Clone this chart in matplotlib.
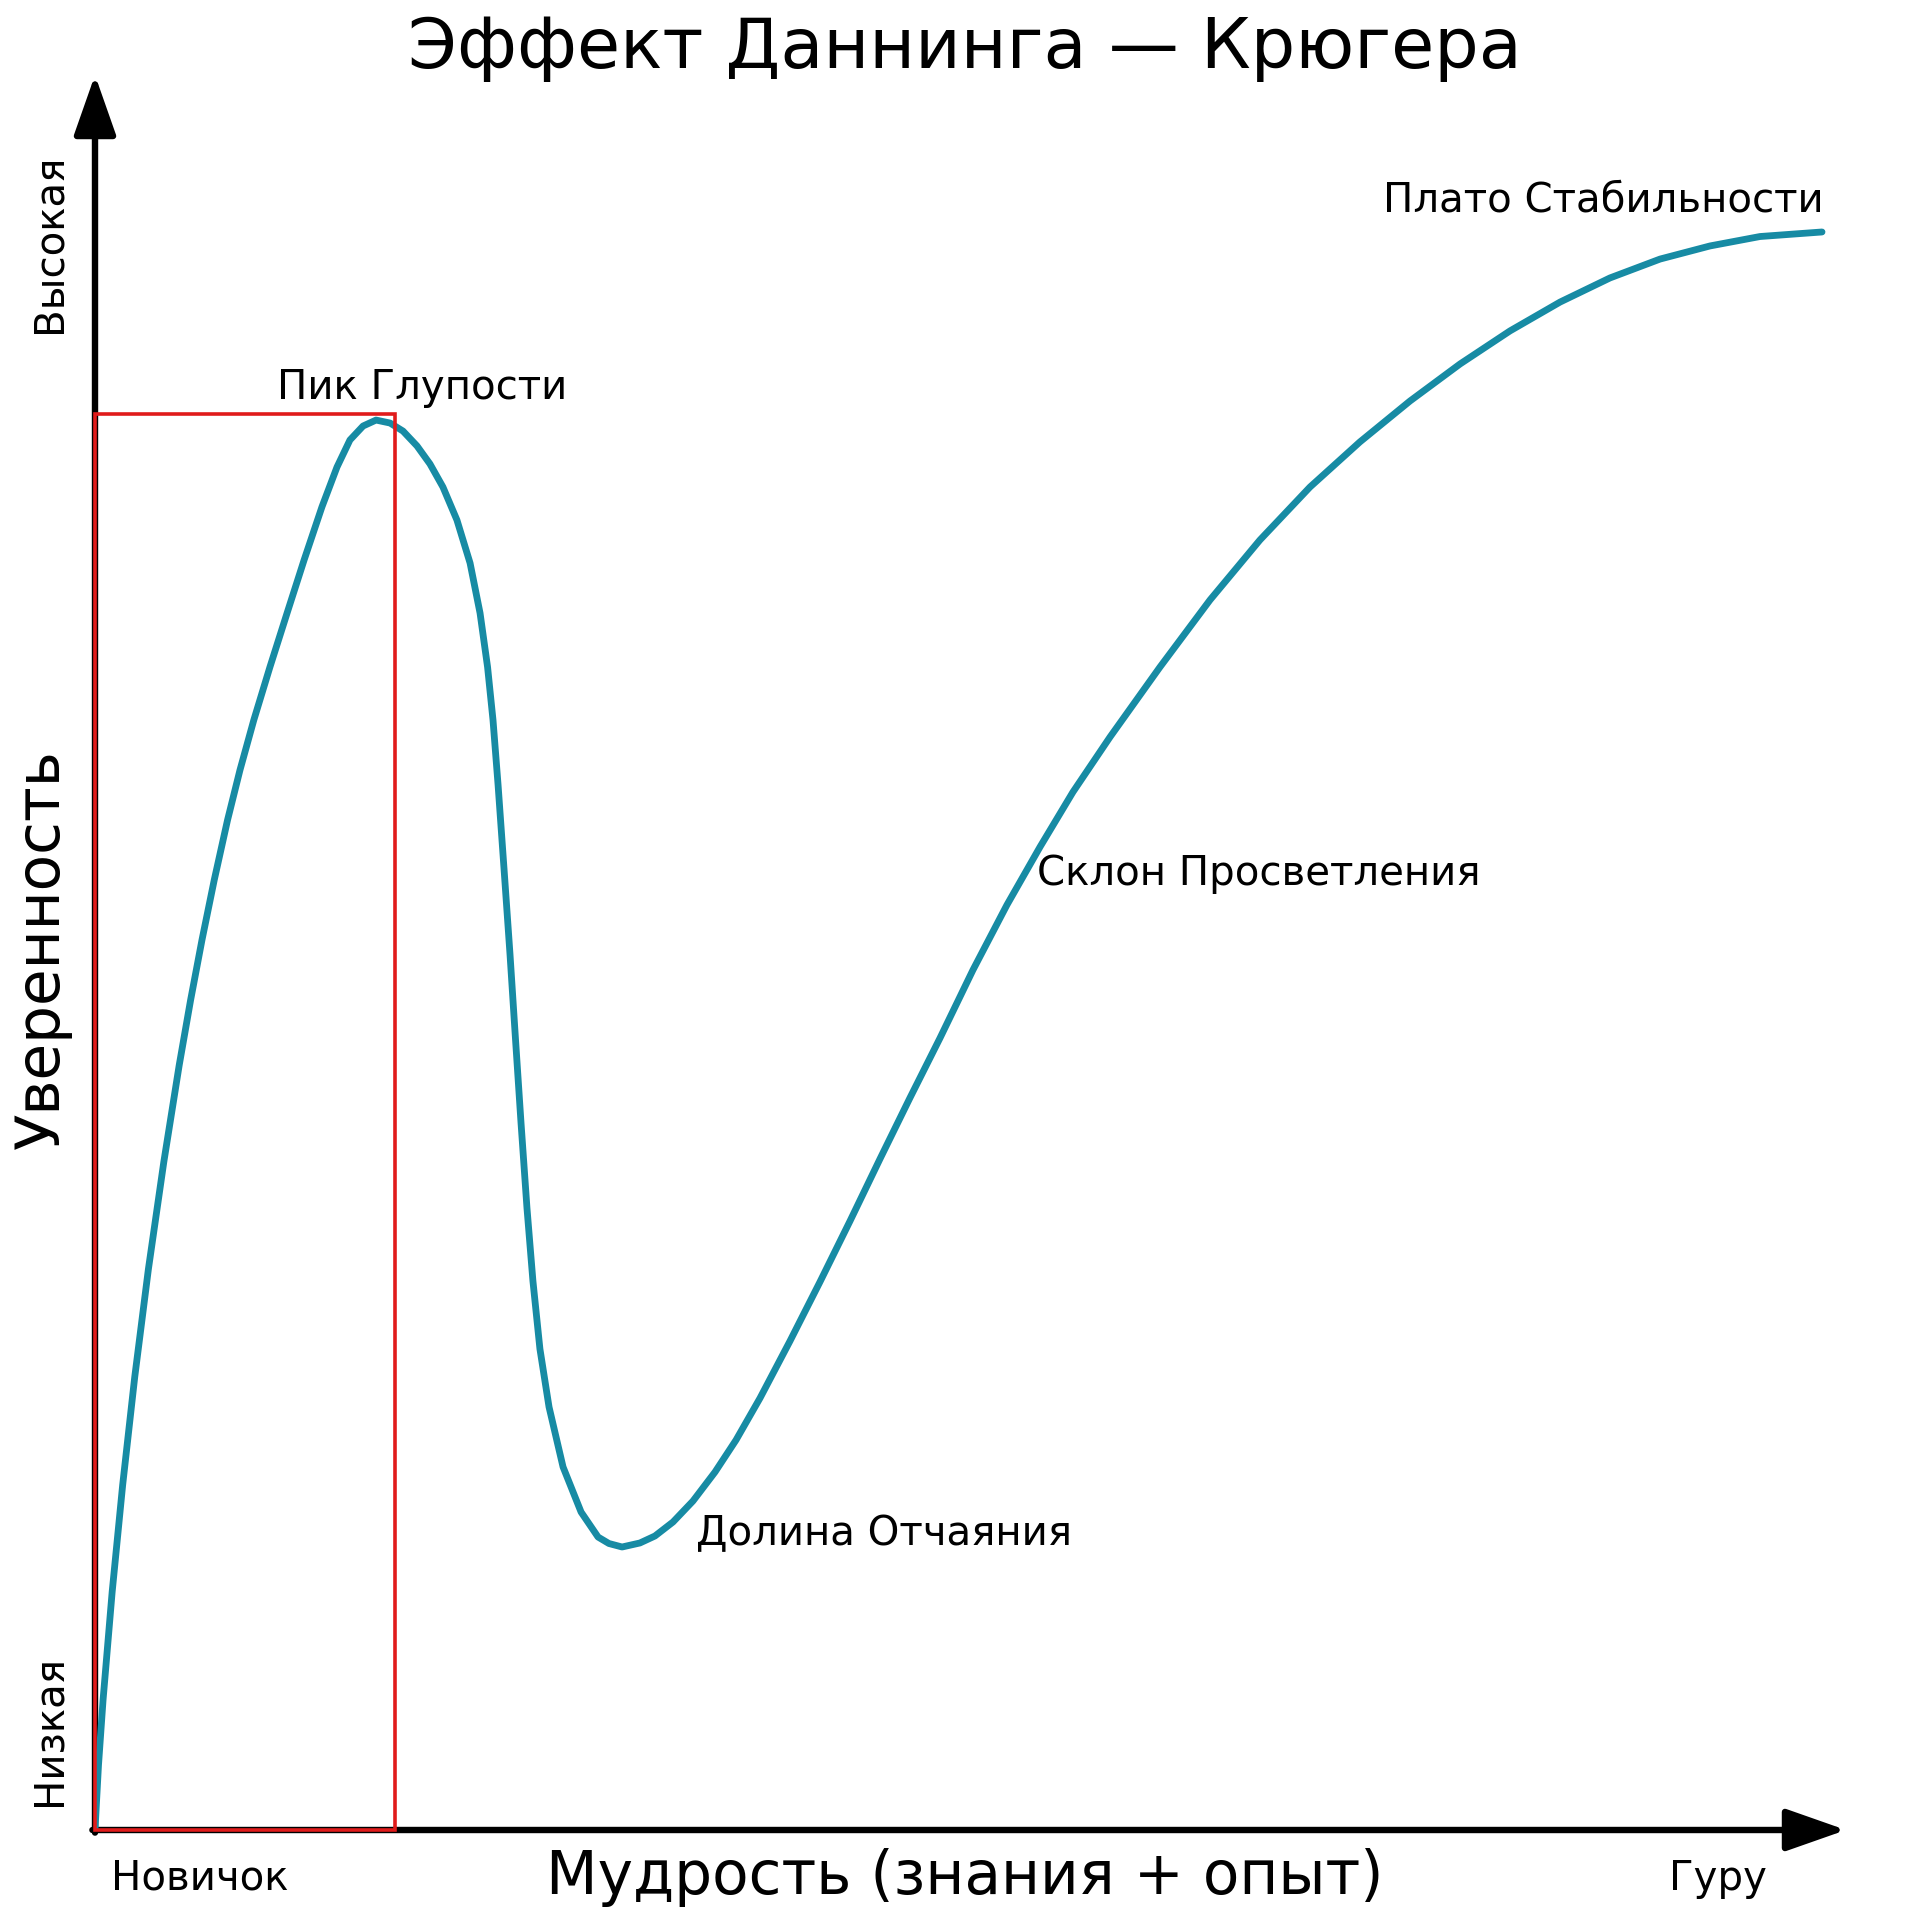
import matplotlib
matplotlib.use('Agg')
import matplotlib.pyplot as plt
from matplotlib.patches import Rectangle

# curve: wisdom (0..100) vs confidence (0..100)
wisdom = [0.00, 0.20, 0.46, 0.98, 1.58, 2.27, 3.05, 3.93, 4.81, 5.46,
          6.11, 6.81, 7.57, 8.28, 9.07, 9.99, 10.97, 11.94, 12.96, 13.82,
          14.56, 15.31, 16.05, 16.85, 17.59, 18.39, 19.13, 19.87, 20.67, 21.42,
          21.99, 22.42, 22.73, 23.02, 23.36, 23.70, 24.01, 24.33, 24.67, 25.01,
          25.41, 25.93, 26.73, 27.76, 28.73, 29.35, 30.10, 31.12, 31.98, 33.01, 34.15,
          35.41, 36.61, 37.98, 39.69, 41.40, 43.12, 44.83, 46.54, 48.26, 50.14,
          52.08, 53.97, 55.85, 57.97, 60.82, 63.68, 66.53, 69.39, 72.24, 75.10,
          77.96, 80.81, 83.67, 86.52, 89.38, 92.23, 95.09, 98.63]
confidence = [0, 3.72, 7.44, 13.62, 19.74, 25.92, 32.09, 38.22, 43.76, 47.48,
              50.92, 54.35, 57.78, 60.64, 63.50, 66.53, 69.62, 72.65, 75.69, 77.97,
              79.52, 80.32, 80.66, 80.49, 80.03, 79.18, 78.15, 76.83, 74.94, 72.48,
              69.62, 66.53, 63.50, 59.78, 54.98, 50.11, 45.31, 40.45, 35.58, 31.41,
              27.52, 24.20, 20.77, 18.19, 16.76, 16.39, 16.19, 16.42, 16.82, 17.62, 18.82,
              20.48, 22.31, 24.71, 27.97, 31.35, 34.84, 38.39, 41.88, 45.31, 49.20,
              52.92, 56.24, 59.38, 62.53, 66.53, 70.37, 73.80, 76.83, 79.41, 81.75,
              83.87, 85.76, 87.41, 88.79, 89.87, 90.62, 91.16, 91.42]

# highlighted "novice" zone
zone_width = 17.13
zone_height = 81.0

stage_labels = ['Пик Глупости', 'Долина Отчаяния', 'Склон Просветления', 'Плато Стабильности']
stage_x = [10.4, 34.3, 53.8, 98.7]
stage_y = [82.5, 16.9, 54.7, 93.2]
stage_ha = ['left', 'left', 'left', 'right']

title = 'Эффект Даннинга — Крюгера'
x_label = 'Мудрость (знания + опыт)'
y_label = 'Уверенность'
x_ends = ['Новичок', 'Гуру']
y_ends = ['Низкая', 'Высокая']

teal = '#178ba4'

fig = plt.figure(figsize=(19.2, 19.2), dpi=100)
ax = fig.add_axes([95 / 1920, 90 / 1920, 1751 / 1920, 1748 / 1920])
ax.set_xlim(0, 100)
ax.set_ylim(0, 100)
ax.axis('off')

ax.plot(wisdom, confidence, color=teal, lw=4.9, solid_capstyle='round',
        solid_joinstyle='round', zorder=3)

ax.add_patch(Rectangle((0, 0), zone_width, zone_height, fill=False,
                       edgecolor='#e01b1b', lw=2.6, zorder=4, clip_on=False))

# axis arrows
arrow = dict(arrowstyle='-|>,head_length=3.7,head_width=1.3', lw=4.6,
             color='black', shrinkA=0, shrinkB=0, mutation_scale=10)
ax.annotate('', xy=(0, 100.4), xytext=(0, -0.15), arrowprops=arrow,
            zorder=2, annotation_clip=False)
ax.annotate('', xy=(100, 0), xytext=(-0.15, 0), arrowprops=arrow,
            zorder=2, annotation_clip=False)

for lab, x, y, ha in zip(stage_labels, stage_x, stage_y, stage_ha):
    ax.text(x, y, lab, fontsize=29, ha=ha, va='center')

ax.text(49.7, 101.9, title, fontsize=50.5, ha='center', va='center', clip_on=False)
ax.text(49.7, -2.7, x_label, fontsize=43, ha='center', va='center', clip_on=False)
ax.text(-3.0, 50.4, y_label, fontsize=43, ha='center', va='center',
        rotation=90, clip_on=False)
ax.text(0.9, -2.8, x_ends[0], fontsize=29, ha='left', va='center', clip_on=False)
ax.text(92.7, -2.8, x_ends[1], fontsize=29, ha='center', va='center', clip_on=False)
ax.text(-2.6, 5.7, y_ends[0], fontsize=29, ha='center', va='center',
        rotation=90, clip_on=False)
ax.text(-2.6, 90.8, y_ends[1], fontsize=29, ha='center', va='center',
        rotation=90, clip_on=False)

fig.savefig('out.png', dpi=100, facecolor='white')
